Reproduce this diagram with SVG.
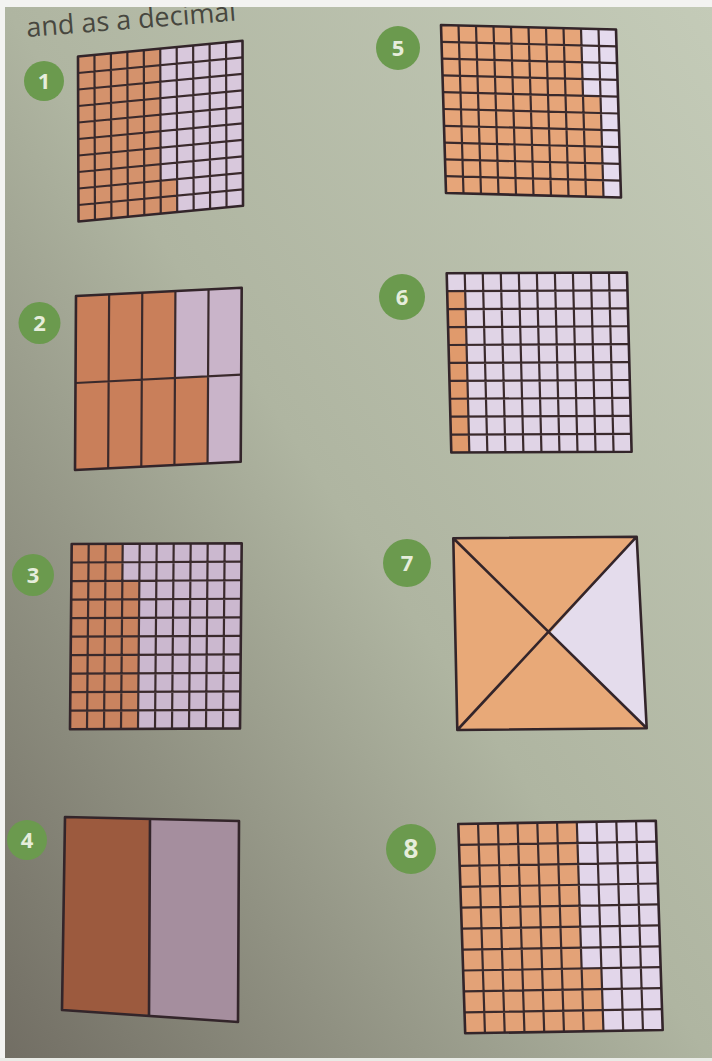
<svg xmlns="http://www.w3.org/2000/svg" xmlns:xlink="http://www.w3.org/1999/xlink" width="712" height="1061" viewBox="0 0 712 1061">
<style>
.ln{fill:none;stroke:#3a2a2c;stroke-width:2.2;vector-effect:non-scaling-stroke}
.bd{fill:none;stroke:#33252a;stroke-width:2.6;vector-effect:non-scaling-stroke;stroke-linejoin:round}
.badge{fill:#6b9a4e}
.num{font-family:"Open Sans","Liberation Sans",sans-serif;font-weight:700;font-size:22px;fill:#e6eddb;text-anchor:middle}
.title{font-family:"Open Sans","Liberation Sans",sans-serif;font-size:27px;fill:#47473f}
</style>
<defs>
<linearGradient id="bg" x1="1" y1="0" x2="0" y2="1">
<stop offset="0" stop-color="#c4cbb8"/>
<stop offset="0.5" stop-color="#afb5a1"/>
<stop offset="1" stop-color="#716d63"/>
</linearGradient>
<path id="g10" class="ln" d="M1 0V10M2 0V10M3 0V10M4 0V10M5 0V10M6 0V10M7 0V10M8 0V10M9 0V10M0 1H10M0 2H10M0 3H10M0 4H10M0 5H10M0 6H10M0 7H10M0 8H10M0 9H10"/>
<rect id="b10" class="bd" x="0" y="0" width="10" height="10"/>
</defs>
<rect width="712" height="1061" fill="url(#bg)"/>
<text class="title" x="27" y="37" transform="rotate(-4.5 27 37)">and as a decimal</text>
<rect x="0" y="0" width="712" height="7" fill="#f3f3f1"/>
<rect x="0" y="0" width="5" height="1061" fill="#f3f3f1"/>
<rect x="0" y="1058" width="712" height="3" fill="#e9ebe6"/>

<g id="q1">
<circle class="badge" cx="44" cy="81" r="20"/><text class="num" x="44" y="89">1</text>
<g transform="matrix(16.45,-1.57,0.05,16.5,78,56.5)">
<rect width="10" height="10" fill="#d8c8dc"/>
<path d="M0 0H5V8H6V10H0Z" fill="#d4926c"/>
<use xlink:href="#g10"/><use xlink:href="#b10"/>
</g>
</g>

<g id="q2">
<circle class="badge" cx="39.5" cy="323" r="21"/><text class="num" x="39.5" y="331">2</text>
<g transform="matrix(33.14,-1.66,-0.5,87,76,296)">
<rect width="5" height="2" fill="#c9b4c9"/>
<path d="M0 0H3V1H4V2H0Z" fill="#c97f5a"/>
<path class="ln" d="M1 0V2M2 0V2M3 0V2M4 0V2M0 1H5"/>
<rect class="bd" width="5" height="2"/>
</g>
</g>

<g id="q3">
<circle class="badge" cx="33" cy="575" r="21"/><text class="num" x="33" y="583">3</text>
<g transform="matrix(17,-0.08,-0.17,18.52,71.7,544)">
<rect width="10" height="10" fill="#cbb8cf"/>
<path d="M0 0H3V2H4V10H0Z" fill="#c9835f"/>
<use xlink:href="#g10"/><use xlink:href="#b10"/>
</g>
</g>

<g id="q4">
<circle class="badge" cx="27" cy="840" r="20"/><text class="num" x="27" y="848">4</text>
<polygon points="65,817 150,819 149,1015 62,1010" fill="#9c5a3e"/>
<polygon points="150,819 239,821 238,1022 149,1015" fill="#a58e9e"/>
<path class="bd" d="M65 817L239 821L238 1022L62 1010Z M150 819L149 1015"/>
</g>

<g id="q5">
<circle class="badge" cx="398" cy="48" r="22"/><text class="num" x="398" y="56">5</text>
<g transform="matrix(17.5,0.45,0.5,16.8,441,25)">
<rect width="10" height="10" fill="#e5dbee"/>
<path d="M0 0H8V4H9V10H0Z" fill="#e6a579"/>
<use xlink:href="#g10"/><use xlink:href="#b10"/>
</g>
</g>

<g id="q6">
<circle class="badge" cx="402" cy="297" r="23"/><text class="num" x="402" y="305">6</text>
<g transform="matrix(18.03,-0.08,0.46,17.92,446.7,273.3)">
<rect width="10" height="10" fill="#e0d4e6"/>
<path d="M0 1H1V10H0Z" fill="#e09a6c"/>
<use xlink:href="#g10"/><use xlink:href="#b10"/>
</g>
</g>

<g id="q7">
<circle class="badge" cx="407" cy="563" r="24"/><text class="num" x="407" y="571">7</text>
<polygon points="453.3,538.3 636.7,536.7 550,633 646.7,728.3 457.3,730" fill="#e8a978"/>
<polygon points="636.7,536.7 646.7,728.3 550,633" fill="#e4dcec"/>
<path class="bd" d="M453.3 538.3L636.7 536.7L646.7 728.3L457.3 730Z M453.3 538.3L646.7 728.3 M636.7 536.7L457.3 730"/>
</g>

<g id="q8">
<circle class="badge" cx="411" cy="849" r="25"/><text class="num" x="411" y="858" style="font-size:26px">8</text>
<g transform="matrix(19.75,-0.33,0.69,20.93,458.3,824)">
<rect width="10" height="10" fill="#e2d6ea"/>
<path d="M0 0H6V7H7V10H0Z" fill="#e3a277"/>
<use xlink:href="#g10"/><use xlink:href="#b10"/>
</g>
</g>
</svg>
